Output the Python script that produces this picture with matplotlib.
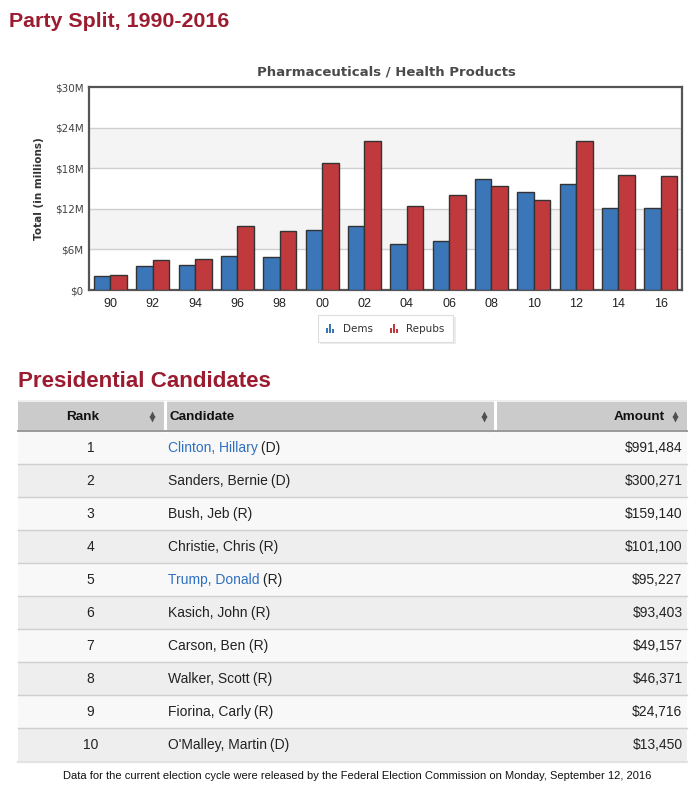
import matplotlib
matplotlib.use("Agg")
import matplotlib.pyplot as plt
from matplotlib.patches import Rectangle

# ---------------- data ----------------
cycles = ["90", "92", "94", "96", "98", "00", "02", "04", "06", "08", "10", "12", "14", "16"]
dems = [2.0, 3.55, 3.7, 5.1, 4.9, 8.9, 9.4, 6.75, 7.2, 16.4, 14.5, 15.7, 12.2, 12.1]
repubs = [2.2, 4.4, 4.6, 9.4, 8.7, 18.8, 22.1, 12.5, 14.05, 15.4, 13.3, 22.0, 17.0, 16.8]
y_ticks = [0, 6, 12, 18, 24, 30]
y_tick_labels = ["$0", "$6M", "$12M", "$18M", "$24M", "$30M"]

ranks = [1, 2, 3, 4, 5, 6, 7, 8, 9, 10]
names = ["Clinton, Hillary", "Sanders, Bernie", "Bush, Jeb", "Christie, Chris",
         "Trump, Donald", "Kasich, John", "Carson, Ben", "Walker, Scott",
         "Fiorina, Carly", "O'Malley, Martin"]
parties = ["D", "D", "R", "R", "R", "R", "R", "R", "R", "D"]
linked = [True, False, False, False, True, False, False, False, False, False]
amounts = ["$991,484", "$300,271", "$159,140", "$101,100", "$95,227",
           "$93,403", "$49,157", "$46,371", "$24,716", "$13,450"]

BLUE = "#3b76b9"
RED = "#c03a3d"
TITLE_RED = "#9b1c31"
LINK = "#2f6fc0"
ARIAL = "Liberation Sans"

fig = plt.figure(figsize=(7, 8), dpi=100)
fig.patch.set_facecolor("white")

bg = fig.add_axes([0, 0, 1, 1])
bg.set_xlim(0, 700)
bg.set_ylim(800, 0)
bg.axis("off")
bg.set_zorder(0)

# ---------------- titles ----------------
bg.text(9, 27, "Party Split, 1990-2016", family=ARIAL, fontweight="bold",
        fontsize=15.4, color=TITLE_RED, va="baseline", ha="left")
bg.text(386, 75.5, "Pharmaceuticals / Health Products", family="DejaVu Sans",
        fontweight="bold", fontsize=9.5, color="#4a4a4a", va="baseline", ha="center")

# ---------------- bar chart ----------------
L, R, T, B = 89.3, 682, 87.3, 290
ax = fig.add_axes([L / 700, 1 - B / 800, (R - L) / 700, (B - T) / 800])
ax.set_zorder(1)
ax.set_facecolor("white")
x = list(range(len(cycles)))
w = 0.39
for i in range(0, len(y_ticks) - 1):
    if i % 2 == 1:
        ax.axhspan(y_ticks[i], y_ticks[i + 1], color="#f4f4f4", zorder=0, lw=0)
for yt in y_ticks[1:-1]:
    ax.axhline(yt, color="#cfcfcf", lw=1.0, zorder=1)
ax.bar([v - w / 2 for v in x], dems, width=w, color=BLUE, edgecolor="#333333",
       linewidth=1.0, zorder=3)
ax.bar([v + w / 2 for v in x], repubs, width=w, color=RED, edgecolor="#333333",
       linewidth=1.0, zorder=3)
ax.set_xlim(-0.5, len(cycles) - 0.5)
ax.set_ylim(0, 30)
ax.set_yticks(y_ticks)
ax.set_yticklabels(y_tick_labels, family="DejaVu Sans", fontsize=7.5, color="#444444")
ax.set_xticks(x)
ax.set_xticklabels(cycles, family=ARIAL, fontsize=9, color="#222222")
ax.tick_params(axis="both", length=0)
ax.tick_params(axis="y", pad=4)
ax.tick_params(axis="x", pad=6)
for s in ax.spines.values():
    s.set_color("#555555")
    s.set_linewidth(1.6)
ax.set_ylabel("Total (in millions)", family="DejaVu Sans", fontweight="bold",
              fontsize=7.5, color="#333333", labelpad=8)

# ---------------- legend ----------------
bg.add_patch(Rectangle((320, 317), 136, 27, facecolor="#ececec", edgecolor="none", zorder=1))
bg.add_patch(Rectangle((318, 315), 135, 26.5, facecolor="white", edgecolor="#dddddd",
                       lw=0.8, zorder=2))


def legend_icon(x0, color):
    for dx, h in [(0, 5), (3, 9), (6, 4)]:
        bg.add_patch(Rectangle((x0 + dx, 333 - h), 2.2, h, facecolor=color,
                               edgecolor="none", zorder=3))


legend_icon(326, BLUE)
bg.text(342.5, 328.5, "Dems", family="DejaVu Sans", fontsize=7.5, color="#333333",
        va="center", ha="left", zorder=3)
legend_icon(389.5, RED)
bg.text(406, 328.5, "Repubs", family="DejaVu Sans", fontsize=7.5, color="#333333",
        va="center", ha="left", zorder=3)

# ---------------- table ----------------
bg.text(17.5, 387, "Presidential Candidates", family=ARIAL, fontweight="bold",
        fontsize=16.1, color=TITLE_RED, va="baseline", ha="left")

TL, TR = 18.3, 687
HT, HB = 401.5, 431
ROW_H = 33.0
bg.add_patch(Rectangle((TL, HT - 1.5), TR - TL, 1.5, facecolor="#eeeeee", edgecolor="none"))
bg.add_patch(Rectangle((TL, HT), TR - TL, HB - HT, facecolor="#cbcbcb", edgecolor="none"))
for cx in [164.5, 495]:
    bg.plot([cx, cx], [HT, HB], color="white", lw=2.2)
bg.plot([TL, TR], [HB, HB], color="#9a9a9a", lw=1.4)

hy = (HT + HB) / 2 + 0.5
bg.text(83, hy, "Rank", family=ARIAL, fontweight="bold", fontsize=9.7, color="#111111",
        ha="center", va="center")
bg.text(169, hy, "Candidate", family=ARIAL, fontweight="bold", fontsize=9.7,
        color="#111111", ha="left", va="center")
bg.text(665, hy, "Amount", family=ARIAL, fontweight="bold", fontsize=9.7,
        color="#111111", ha="right", va="center")


def sort_icon(xc):
    bg.plot([xc], [hy - 2.6], marker="^", ms=4.0, color="#505050", mec="none")
    bg.plot([xc], [hy + 2.6], marker="v", ms=4.0, color="#505050", mec="none")


for xc in [152, 483.5, 675]:
    sort_icon(xc)

fig.canvas.draw()
renderer = fig.canvas.get_renderer()
inv = bg.transData.inverted()

for i, r in enumerate(ranks):
    top = HB + i * ROW_H
    face = "#f8f8f8" if i % 2 == 0 else "#eeeeee"
    bg.add_patch(Rectangle((TL, top + 0.7), TR - TL, ROW_H - 0.7, facecolor=face,
                           edgecolor="none", zorder=0.5))
    if i > 0:
        bg.plot([TL, TR], [top, top], color="#cfcfcf", lw=1.0, zorder=0.6)
    cy = top + ROW_H / 2 + 0.5
    bg.text(90.5, cy, str(r), family=ARIAL, fontsize=10, color="#222222",
            ha="center", va="center")
    t = bg.text(167.5, cy, names[i], family=ARIAL, fontsize=10,
                color=LINK if linked[i] else "#222222", ha="left", va="center")
    bb = t.get_window_extent(renderer=renderer)
    x_end = inv.transform((bb.x1, bb.y0))[0]
    bg.text(x_end, cy, " (" + parties[i] + ")", family=ARIAL, fontsize=10,
            color="#222222", ha="left", va="center")
    bg.text(682.5, cy, amounts[i], family=ARIAL, fontsize=10, color="#222222",
            ha="right", va="center")

bottom = HB + len(ranks) * ROW_H
bg.plot([TL, TR], [bottom + 0.5, bottom + 0.5], color="#e2e2e2", lw=1.5, zorder=0.6)

bg.text(357, 776, "Data for the current election cycle were released by the Federal "
        "Election Commission on Monday, September 12, 2016", family=ARIAL,
        fontsize=8.0, color="#111111", ha="center", va="center")

fig.savefig("out.png", dpi=100, facecolor="white")
